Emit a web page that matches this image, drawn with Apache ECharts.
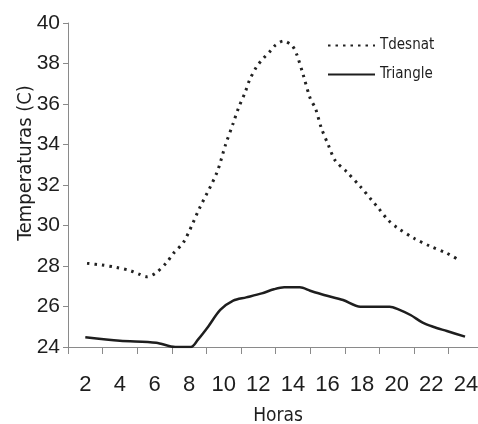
<!DOCTYPE html>
<html>
<head>
<meta charset="utf-8">
<script src="https://cdn.jsdelivr.net/npm/echarts@6/dist/echarts.min.js"></script>
<style>
  html, body { margin: 0; padding: 0; background: #fff; }
  #chart { width: 478px; height: 424px; }
</style>
</head>
<body>
<div id="chart"></div>
<script>
// Hours and temperatures
const desnatHours = [2.1, 2.95, 3.8, 4.6, 5.1, 5.55, 6.05, 6.7, 7.1, 7.7, 8.6, 9.6, 10.1, 10.55, 10.85, 11.25, 11.5, 11.9, 12.3, 12.7, 13.0, 13.45, 13.95, 14.2, 14.6, 15.0, 15.3, 15.65, 16.05, 16.45, 17.1, 17.9, 18.55, 18.95, 19.5, 20.0, 21.0, 21.9, 22.9, 23.6];
const desnatTemps = [28.13, 28.05, 27.93, 27.77, 27.6, 27.47, 27.64, 28.17, 28.63, 29.2, 30.85, 32.6, 33.97, 35.05, 35.79, 36.6, 37.19, 37.84, 38.26, 38.62, 38.91, 39.11, 38.88, 38.5, 37.43, 36.28, 35.79, 34.8, 33.97, 33.2, 32.66, 31.92, 31.26, 30.85, 30.27, 29.91, 29.37, 28.99, 28.63, 28.3];

const triHours = [2, 4, 6.1, 7.2, 8.1, 8.5, 9.1, 9.8, 10.55, 11.3, 12.2, 12.9, 13.5, 14.4, 15, 15.8, 16.9, 17.9, 19.6, 20.1, 20.8, 21.5, 22.1, 22.9, 23.95];
const triTemps = [24.48, 24.31, 24.21, 24.0, 24.0, 24.35, 25.0, 25.83, 26.29, 26.45, 26.65, 26.85, 26.95, 26.95, 26.78, 26.57, 26.32, 25.99, 25.99, 25.86, 25.58, 25.2, 25.0, 24.79, 24.51];

const xTickValues = [1, 3, 5, 7, 9, 11, 13, 15, 17, 19, 21, 23];
const xLabelValues = [2, 4, 6, 8, 10, 12, 14, 16, 18, 20, 22, 24];

const chart = echarts.init(document.getElementById('chart'));

const font = 'Liberation Sans, Arial, sans-serif';
const condensed = 'DejaVu Sans Condensed, Liberation Sans, sans-serif';
const ink = '#1e1e1e';

const option = {
  backgroundColor: '#fff',
  animation: false,
  grid: { left: 68, top: 23, right: 0, bottom: 77, outerBoundsMode: 'none' },
  legend: {
    orient: 'vertical',
    left: 322,
    top: 33,
    itemWidth: 47,
    itemHeight: 10,
    itemGap: 14,
    itemStyle: { opacity: 0 },
    textStyle: { fontFamily: condensed, fontSize: 15, color: ink },
    data: ['Tdesnat', 'Triangle']
  },
  xAxis: {
    type: 'value',
    min: 1,
    max: 24.7,
    name: 'Horas',
    nameLocation: 'middle',
    nameGap: 60,
    nameMoveOverlap: false,
    nameTextStyle: { fontFamily: condensed, fontSize: 19, color: ink, padding: [0, 0, 0, 10] },
    axisLine: { lineStyle: { color: '#8a8a8a', width: 1 } },
    axisTick: { show: true, length: 7, customValues: xTickValues, lineStyle: { color: '#8a8a8a' } },
    axisLabel: { customValues: xLabelValues, margin: 27, fontFamily: font, fontSize: 22, color: ink },
    splitLine: { show: false }
  },
  yAxis: {
    type: 'value',
    min: 24,
    max: 40,
    interval: 2,
    name: 'Temperaturas (C)',
    nameLocation: 'middle',
    nameGap: 32,
    nameMoveOverlap: false,
    nameTextStyle: { fontFamily: condensed, fontSize: 20, color: ink, padding: [0, 0, 0, 44] },
    axisLine: { show: true, lineStyle: { color: '#8a8a8a', width: 1 } },
    axisTick: { show: true, length: 5, lineStyle: { color: '#8a8a8a' } },
    axisLabel: { margin: 8, fontFamily: font, fontSize: 21, color: ink },
    splitLine: { show: false }
  },
  series: [
    {
      name: 'Tdesnat',
      type: 'line',
      symbol: 'none',
      smooth: 0.3,
      data: desnatHours.map((h, i) => [h, desnatTemps[i]]),
      lineStyle: { color: '#222', width: 3, type: [2.5, 5] },
      itemStyle: { color: '#222' }
    },
    {
      name: 'Triangle',
      type: 'line',
      symbol: 'none',
      smooth: 0.3,
      data: triHours.map((h, i) => [h, triTemps[i]]),
      lineStyle: { color: '#1e1e1e', width: 2.5 },
      itemStyle: { color: '#1e1e1e' }
    }
  ]
};

chart.setOption(option);
</script>
</body>
</html>
